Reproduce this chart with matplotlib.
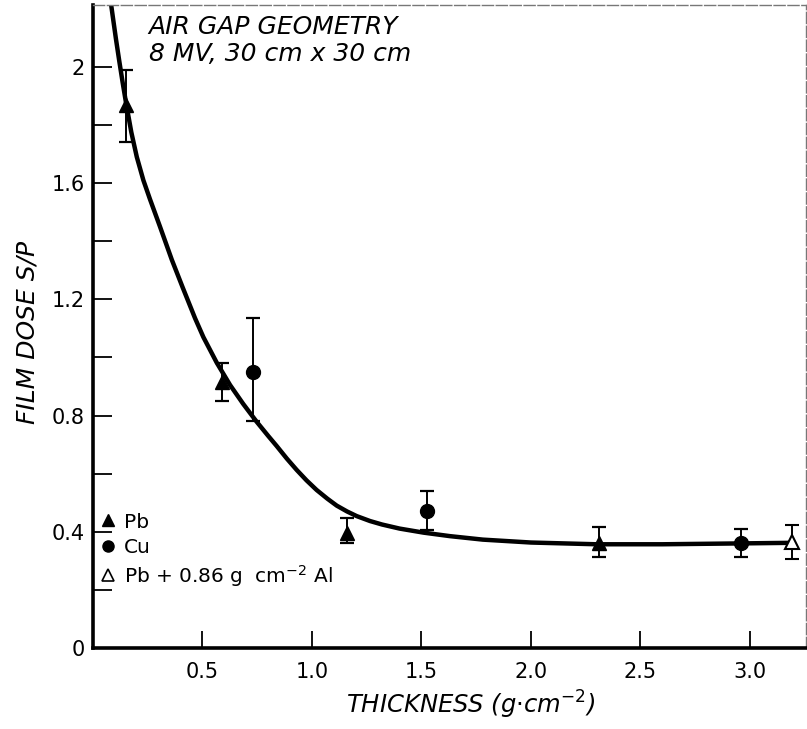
import numpy as np
import matplotlib.pyplot as plt
from matplotlib.lines import Line2D

pb_x = [0.15, 0.59, 1.16, 2.31]
pb_y = [1.87, 0.915, 0.395, 0.36]
pb_lo = [1.74, 0.85, 0.36, 0.313]
pb_hi = [1.99, 0.98, 0.447, 0.415]

cu_x = [0.73, 1.525, 2.96]
cu_y = [0.95, 0.47, 0.36]
cu_lo = [0.78, 0.405, 0.313]
cu_hi = [1.135, 0.54, 0.41]

al_x = [3.19]
al_y = [0.365]
al_lo = [0.306]
al_hi = [0.425]

# 곡선 (그림에서 읽은 점)
curve_x = [0.078, 0.09, 0.105, 0.12, 0.135, 0.15, 0.175, 0.20, 0.23, 0.26, 0.306, 0.36,
           0.41, 0.466, 0.504, 0.565, 0.626, 0.686, 0.747, 0.80, 0.839, 0.885, 0.930,
           0.975, 1.021, 1.07, 1.113, 1.16, 1.204, 1.265, 1.32, 1.40, 1.51, 1.63,
           1.78, 2.0, 2.30, 2.60, 2.96, 3.19]
curve_y = [2.24, 2.175, 2.095, 2.02, 1.948, 1.88, 1.775, 1.69, 1.61, 1.545, 1.45, 1.336,
           1.24, 1.135, 1.07, 0.982, 0.905, 0.84, 0.779, 0.73, 0.695, 0.652, 0.613,
           0.577, 0.544, 0.514, 0.49, 0.47, 0.454, 0.437, 0.425, 0.411, 0.397, 0.385,
           0.373, 0.363, 0.357, 0.357, 0.36, 0.362]

y_ticks = [0, 0.4, 0.8, 1.2, 1.6, 2.0]
y_labels = ['0', '0.4', '0.8', '1.2', '1.6', '2']
x_ticks = [0.5, 1.0, 1.5, 2.0, 2.5, 3.0]
x_labels = ['0.5', '1.0', '1.5', '2.0', '2.5', '3.0']

fig = plt.figure(figsize=(8.07, 7.29), dpi=100)
ax = fig.add_axes([93 / 807, 1 - 648 / 729, 713 / 807, 643 / 729])


def err(y, lo, hi):
    y = np.array(y)
    return [y - np.array(lo), np.array(hi) - y]


ax.plot(curve_x, curve_y, color='black', lw=3.2, solid_capstyle='round',
        solid_joinstyle='round', zorder=2)

ax.errorbar(pb_x, pb_y, yerr=err(pb_y, pb_lo, pb_hi), fmt='^', color='black',
            ms=10, ecolor='black', elinewidth=1.4, capsize=5, capthick=1.6, zorder=3)
ax.errorbar(cu_x, cu_y, yerr=err(cu_y, cu_lo, cu_hi), fmt='o', color='black',
            ms=10, ecolor='black', elinewidth=1.4, capsize=5, capthick=1.6, zorder=3)
ax.errorbar(al_x, al_y, yerr=err(al_y, al_lo, al_hi), fmt='^', mfc='white', mec='black',
            mew=1.5, ms=10, ecolor='black', elinewidth=1.4, capsize=5, capthick=1.6, zorder=3)

ax.set_xlim(0, 3.256)
ax.set_ylim(0, 2.213)

ax.set_yticks(y_ticks)
ax.set_yticklabels(y_labels)
ax.set_yticks([0.2, 0.6, 1.0, 1.4, 1.8], minor=True)
ax.set_xticks(x_ticks)
ax.set_xticklabels(x_labels)

ax.tick_params(axis='y', which='both', direction='in', length=14, width=1.3, labelsize=15, pad=6)
ax.tick_params(axis='x', which='both', direction='in', length=12, width=1.3, labelsize=15, pad=10)

for s in ['left', 'bottom']:
    ax.spines[s].set_linewidth(2.6)
for s in ['top', 'right']:
    ax.spines[s].set_linewidth(1.0)
    ax.spines[s].set_color('#777777')
    ax.spines[s].set_linestyle((0, (8, 2)))

ax.set_ylabel('FILM DOSE S/P', fontsize=18, style='italic')
ax.yaxis.set_label_coords(-0.075, 0.49)
ax.set_xlabel('THICKNESS (g$\\cdot$cm$^{-2}$)', fontsize=17.5, style='italic')
ax.xaxis.set_label_coords(0.53, -0.064)

ax.text(0.078, 0.985, 'AIR GAP GEOMETRY\n8 MV, 30 cm x 30 cm', transform=ax.transAxes,
        fontsize=18, style='italic', va='top', ha='left', linespacing=1.2)

handles = [
    Line2D([], [], marker='^', ls='none', color='black', ms=8),
    Line2D([], [], marker='o', ls='none', color='black', ms=8),
    Line2D([], [], marker='^', ls='none', mfc='white', mec='black', mew=1.2, ms=8),
]
labels = ['Pb', 'Cu', 'Pb + 0.86 g  cm$^{-2}$ Al']
ax.legend(handles, labels, loc='lower left', bbox_to_anchor=(-0.002, 0.08), frameon=False,
          fontsize=14.5, handlelength=0.8, handletextpad=0.4, labelspacing=0.3, borderaxespad=0)

fig.savefig('out.png', dpi=100)
